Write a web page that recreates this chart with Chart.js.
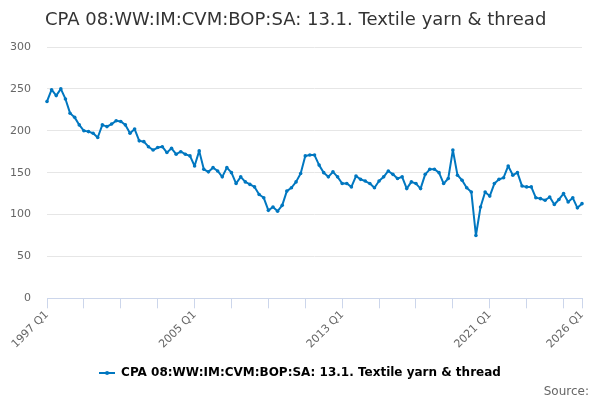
<!DOCTYPE html>
<html><head><meta charset="utf-8">
<script src="https://cdn.jsdelivr.net/npm/chart.js@4.4.1/dist/chart.umd.min.js"></script>
<style>html,body{margin:0;padding:0;background:#fff}</style>
</head><body>
<canvas id="c" width="600" height="400" style="width:600px;height:400px;display:block"></canvas>
<script>
const chartTitle = 'CPA 08:WW:IM:CVM:BOP:SA: 13.1. Textile yarn & thread';
const seriesName = 'CPA 08:WW:IM:CVM:BOP:SA: 13.1. Textile yarn & thread';
const sourceText = 'Source:';
const startYear = 1997;
const quarterCount = 117;
const categories = [];
for (let i = 0; i < quarterCount; i++) {
  categories.push((startYear + Math.floor(i / 4)) + ' Q' + (i % 4 + 1));
}
const values1997to2005 = [235,249,242,250,238,221,216,207,200,199,197,192,207,205,208,212,211,207,197,202,188,187,181,177,180,181,174,179,172,175,172,170];
const values2005to2013 = [158,176,154,151,156,152,145,156,150,137,145,139,136,133,124,120,105,109,104,111,128,132,139,149,170,171,171,159,150,145,151,145];
const values2013to2021 = [137,137,133,146,142,140,137,132,140,145,152,148,143,145,131,139,137,131,148,154,154,150,137,143,177,147,141,132,127,75,109,127];
const values2021to2026 = [122,137,142,144,158,147,150,134,133,133,120,119,117,121,112,118,125,115,120,108,113];
const values = values1997to2005.concat(values2005to2013, values2013to2021, values2021to2026);
const tickLabels = ['1997 Q1','2005 Q1','2013 Q1','2021 Q1','2026 Q1'];
const tickEvery = 8;
const yMin = 0, yMax = 300, yStep = 50;

const lineColor = 'rgb(0,119,192)';
const fontFamily = '"DejaVu Sans", Verdana, sans-serif';

function legendMarker() {
  const cv = document.createElement('canvas');
  cv.width = 16; cv.height = 6;
  const x = cv.getContext('2d');
  x.strokeStyle = lineColor; x.lineWidth = 2;
  x.beginPath(); x.moveTo(0, 3); x.lineTo(16, 3); x.stroke();
  x.fillStyle = lineColor;
  x.beginPath(); x.arc(8, 3, 2, 0, Math.PI * 2); x.fill();
  return cv;
}
const marker = legendMarker();

const textPlugin = {
  id: 'texts',
  afterLayout(chart) {
    if (chart.legend) {
      chart.legend.left += 9;
      chart.legend.right += 9;
    }
  },
  afterDraw(chart) {
    const ctx = chart.ctx;
    ctx.save();
    ctx.fillStyle = '#333333';
    ctx.font = '18px ' + fontFamily;
    ctx.textAlign = 'left';
    ctx.textBaseline = 'alphabetic';
    ctx.fillText(chartTitle, 45, 25);
    ctx.fillStyle = '#666666';
    ctx.font = '12px ' + fontFamily;
    ctx.textAlign = 'right';
    ctx.fillText(sourceText, 589, 395);
    ctx.restore();
  }
};

new Chart(document.getElementById('c'), {
  type: 'line',
  data: {
    labels: categories,
    datasets: [{
      label: seriesName,
      data: values,
      borderColor: lineColor,
      backgroundColor: lineColor,
      pointBackgroundColor: lineColor,
      pointBorderColor: lineColor,
      borderWidth: 2,
      borderJoinStyle: 'round',
      borderCapStyle: 'round',
      pointRadius: 1.8,
      pointBorderWidth: 0,
      tension: 0,
      fill: false
    }]
  },
  options: {
    responsive: false,
    animation: false,
    devicePixelRatio: 1,
    layout: { padding: { top: 47, right: 18, left: 0, bottom: 11 } },
    plugins: {
      title: { display: false },
      tooltip: { enabled: false },
      legend: {
        display: true,
        position: 'bottom',
        labels: {
          usePointStyle: true,
          pointStyleWidth: 16,
          color: '#333333',
          font: { family: fontFamily, size: 12, weight: 'bold' },
          padding: 6,
          generateLabels(chart) {
            return chart.data.datasets.map((ds, i) => ({
              text: ds.label,
              fillStyle: lineColor,
              strokeStyle: lineColor,
              lineWidth: 0,
              pointStyle: marker,
              datasetIndex: i,
              hidden: false
            }));
          }
        }
      }
    },
    scales: {
      x: {
        type: 'category',
        offset: false,
        afterFit(scale) { scale.height += 10; },
        grid: { drawOnChartArea: false, drawTicks: true, tickLength: 10, color: '#ccd6eb', lineWidth: 1 },
        border: { display: true, color: '#ccd6eb', width: 1 },
        ticks: {
          autoSkip: false,
          maxRotation: 45,
          minRotation: 45,
          padding: 0,
          color: '#666666',
          font: { family: fontFamily, size: 11 },
          callback(value, index) {
            const lab = this.getLabelForValue(value);
            if (tickLabels.includes(lab)) return lab;
            if (index % tickEvery === 0) return '';
            return null;
          }
        }
      },
      y: {
        min: yMin, max: yMax,
        afterFit(scale) { scale.width = 47; },
        grid: { color: '#e6e6e6', lineWidth: 1, drawTicks: false },
        border: { display: false },
        ticks: {
          stepSize: yStep,
          padding: 16,
          color: '#666666',
          font: { family: fontFamily, size: 11 }
        }
      }
    }
  },
  plugins: [textPlugin]
});
</script>
</body></html>
